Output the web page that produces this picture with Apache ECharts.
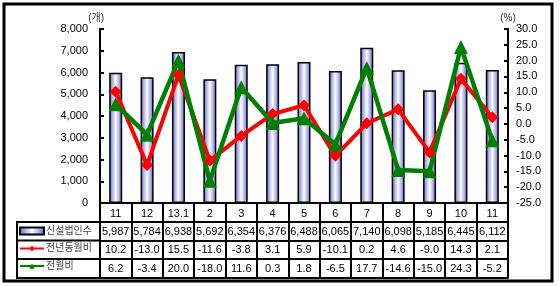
<!DOCTYPE html>
<html><head><meta charset="utf-8">
<script src="https://cdn.jsdelivr.net/npm/echarts@6/dist/echarts.min.js"></script>
<style>html,body{margin:0;padding:0;background:#fff}#c{width:560px;height:286px}</style>
</head><body><div id="c"></div>
<script>
var categories = ['11','12','13.1','2','3','4','5','6','7','8','9','10','11'];
var newCorps = [5987,5784,6938,5692,6354,6376,6488,6065,7140,6098,5185,6445,6112];
var yoy = [10.2,-13.0,15.5,-11.6,-3.8,3.1,5.9,-10.1,0.2,4.6,-9.0,14.3,2.1];
var mom = [6.2,-3.4,20.0,-18.0,11.6,0.3,1.8,-6.5,17.7,-14.6,-15.0,24.3,-5.2];
var leftTicks = {min:0, max:8000, interval:1000};
var rightTicks = {min:-25, max:30, interval:5};
var names = ['신설법인수','전년동월비','전월비'];

var FONT = '"Liberation Sans", Arial, "Noto Sans CJK KR", sans-serif';
function comma(v){return String(v).replace(/\B(?=(\d{3})+(?!\d))/g, ',');}
function tableAxis(offset, arr, fmt){
  return {
    type:'category', data:categories, gridIndex:0, position:'bottom', offset:offset,
    axisLine:{show:true, onZero:false, lineStyle:{color:'#000', width:2}},
    axisTick:{show:true, interval:0, length:19, lineStyle:{color:'#000', width:2}},
    axisLabel:{interval:0, margin:4, fontSize:11, color:'#000', fontFamily:FONT,
      formatter:function(v,i){return fmt(arr[i]);}},
    splitLine:{show:false}
  };
}
var chart = echarts.init(document.getElementById('c'));
var option = {
  animation:false,
  textStyle:{fontFamily:FONT},
  grid:{left:100, right:52, top:29, bottom:83, containLabel:false},
  legend:{
    orient:'vertical', left:19, top:226, itemWidth:24, itemHeight:7, itemGap:7.5, padding:0,
    textStyle:{fontSize:10, color:'#444', fontFamily:FONT, padding:[0,0,0,-3]},
    data:[{name:names[0], icon:'rect'}, {name:names[1]}, {name:names[2]}]
  },
  xAxis:[
    {type:'category', data:categories, position:'bottom',
     axisLine:{onZero:false, lineStyle:{color:'#000', width:2}},
     axisTick:{show:true, interval:0, length:19, lineStyle:{color:'#000', width:2}},
     axisLabel:{interval:0, margin:5, fontSize:11, color:'#000', fontFamily:FONT}},
    tableAxis(19, newCorps, comma),
    tableAxis(37.5, yoy, function(v){return v.toFixed(1);}),
    tableAxis(56, mom, function(v){return v.toFixed(1);}),
    {type:'category', data:categories, position:'bottom', offset:75,
     axisLine:{show:true, onZero:false, lineStyle:{color:'#000', width:2}},
     axisTick:{show:false}, axisLabel:{show:false}}
  ],
  yAxis:[
    {type:'value', min:leftTicks.min, max:leftTicks.max, interval:leftTicks.interval, position:'left',
     name:'(개)', nameLocation:'end', nameGap:5,
     nameTextStyle:{fontSize:10, color:'#333', fontFamily:FONT, align:'right', padding:[0,-4,0,0]},
     axisLine:{show:true, onZero:false, lineStyle:{color:'#000', width:2}},
     axisTick:{show:true, inside:true, length:4, lineStyle:{color:'#000', width:2}},
     axisLabel:{fontSize:11, color:'#000', margin:12, fontFamily:FONT, formatter:function(v){return comma(v);}},
     splitLine:{show:false}},
    {type:'value', min:rightTicks.min, max:rightTicks.max, interval:rightTicks.interval, position:'right',
     name:'(%)', nameLocation:'end', nameGap:6,
     nameTextStyle:{fontSize:10, color:'#333', fontFamily:FONT},
     axisLine:{show:true, onZero:false, lineStyle:{color:'#000', width:2}},
     axisTick:{show:true, inside:true, length:4, lineStyle:{color:'#000', width:2}},
     axisLabel:{fontSize:11, color:'#000', margin:8, fontFamily:FONT, formatter:function(v){return v.toFixed(1);}},
     splitLine:{show:false}}
  ],
  series:[
    {name:names[0], type:'bar', data:newCorps, xAxisIndex:0, yAxisIndex:0, barWidth:13,
     itemStyle:{borderColor:'#000', borderWidth:1.5,
       color:new echarts.graphic.LinearGradient(0,0,1,0,[
         {offset:0,color:'#6464d2'},{offset:0.5,color:'#ffffff'},{offset:1,color:'#6464d2'}])}},
    {name:names[1], type:'line', data:yoy, xAxisIndex:0, yAxisIndex:1,
     symbol:'diamond', symbolSize:12, lineStyle:{color:'#ff0000', width:4},
     itemStyle:{color:'#ff0000'}},
    {name:names[2], type:'line', data:mom, xAxisIndex:0, yAxisIndex:1,
     symbol:'triangle', symbolSize:14, lineStyle:{color:'#008000', width:4.5},
     itemStyle:{color:'#008000'}}
  ],
  graphic:[
    {type:'rect', shape:{x:4,y:4,width:548,height:277}, style:{fill:'none', stroke:'#000', lineWidth:3}, z:100},
    {type:'rect', shape:{x:17,y:222,width:83,height:56}, style:{fill:'none', stroke:'#000', lineWidth:2}, z:100},
    {type:'line', shape:{x1:17,y1:240.5,x2:100,y2:240.5}, style:{stroke:'#000', lineWidth:2}, z:100},
    {type:'line', shape:{x1:17,y1:259,x2:100,y2:259}, style:{stroke:'#000', lineWidth:2}, z:100}
  ]
};
chart.setOption(option);
</script></body></html>
